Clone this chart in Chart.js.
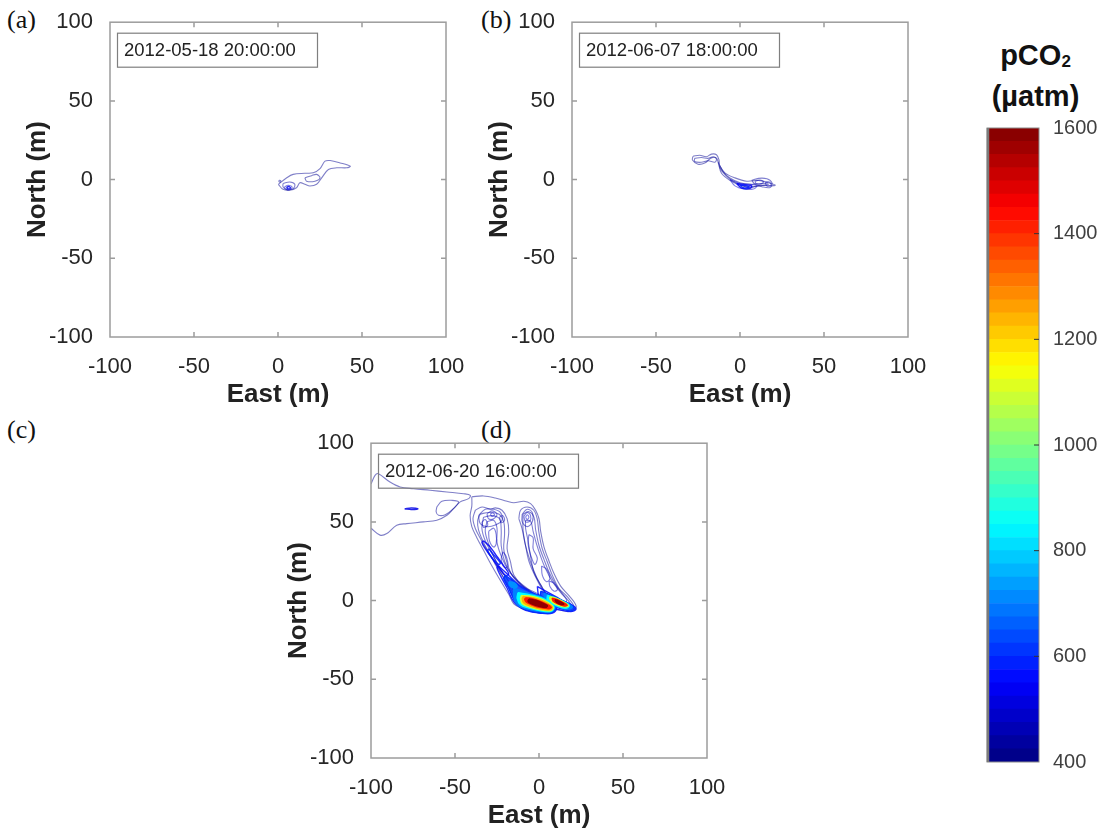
<!DOCTYPE html>
<html>
<head>
<meta charset="utf-8">
<script src="https://cdn.jsdelivr.net/npm/chart.js@4.4.0/dist/chart.umd.min.js"></script>
<style>
  body { margin: 0; background: #fff; }
  #wrap { position: relative; width: 1100px; height: 832px; overflow: hidden; background: #fff; }
  canvas { position: absolute; z-index: 1; }
  .tag { position: absolute; z-index: 0; font-family: "Liberation Serif", "Times New Roman", serif; font-size: 26px; line-height: 26px; color: #111; }
  .cbtitle { position: absolute; left: 975px; top: 38px; width: 121px; text-align: center; font-family: "Liberation Sans", Arial, sans-serif; font-weight: bold; font-size: 29px; line-height: 35px; color: #111; }
  .cbtitle sub { font-size: 17px; vertical-align: -2px; }
</style>
</head>
<body>
<div id="wrap">
  <div class="tag" style="left:7px;top:7px">(a)</div>
  <div class="tag" style="left:481px;top:7px">(b)</div>
  <div class="tag" style="left:7px;top:417px">(c)</div>
  <div class="tag" style="left:481px;top:417px">(d)</div>
  <div class="cbtitle">pCO<sub>2</sub><br>(µatm)</div>
  <canvas id="pa" width="480" height="410" style="left:0px;top:0px"></canvas>
  <canvas id="pb" width="480" height="410" style="left:462px;top:0px"></canvas>
  <canvas id="pc" width="480" height="410" style="left:261px;top:421px"></canvas>
  <canvas id="cbar" width="120" height="670" style="left:980px;top:110px"></canvas>
</div>
<script>
// ---- axis ticks ----
const xTicks = [-100, -50, 0, 50, 100];
const yTicks = [-100, -50, 0, 50, 100];
const cbarTicks = [400, 600, 800, 1000, 1200, 1400, 1600];
const stamps = ['2012-05-18 20:00:00', '2012-06-07 18:00:00', '2012-06-20 16:00:00'];

// colour bar bands (pCO2, µatm)
const cbarEdges = [400, 425, 450, 475, 500, 525, 550, 575, 600, 625, 650, 675, 700, 725, 750, 775,
  800, 825, 850, 875, 900, 925, 950, 975, 1000, 1025, 1050, 1075, 1100, 1125, 1150, 1175,
  1200, 1225, 1250, 1275, 1300, 1325, 1350, 1375, 1400, 1425, 1450, 1475, 1500, 1525, 1550, 1575, 1600];

// ---- panel (a) contours [East, North] ----
const aOuter = [[0.2,-3],[5,1],[9,3.3],[16,4],[21,4.3],[25,7],[28,11.7],[31,12.1],[37,10.6],[43,8.5],[41,7.5],[35,7.5],[30,6.4],[26,1.1],[23,-3],[19,-4.1],[16,-3],[13,-2],[11,-5.2],[7,-6.8],[3,-6.2],[0.2,-3]];
const aHole = [[16,1.1],[20,2.5],[23,3.3],[25,1.1],[22,-1],[17,-1],[16,1.1]];
const aLobe = [[3,-2.5],[7,-1.5],[10,-3],[9,-5.8],[5,-6.3],[3,-4.5],[3,-2.5]];
const aDot = [[0.6,-0.4],[1.6,-0.6],[1.5,-1.5],[0.6,-1.3],[0.6,-0.4]];
const aCore1 = [[3.8,-4.6],[6,-3.6],[8.4,-4.8],[7,-6.4],[4.5,-6],[3.8,-4.6]];
const aCore2 = [[5,-5],[6.3,-4.4],[7.4,-5.2],[6.1,-5.9],[5,-5]];

// ---- panel (b) contours ----
const bOuter = [[-28,14.8],[-24,15.5],[-20,14.5],[-17,16.2],[-14,15.8],[-12.5,12.5],[-12,7.5],[-8,2.2],[-4,-1.2],[2,-4.1],[6,-5.2],[12,-3.6],[18,-4],[21,-3.5],[17,-2],[11,-0.5],[4,-1],[-3,1.1],[-9,4.3],[-12.5,9.6],[-14,13.6],[-17,13.8],[-21,10.5],[-25,9.8],[-28.3,12.5],[-28,14.8]];
const bBlob2 = [[-27,13.5],[-23,14],[-19,13.5],[-16,14.5],[-14,13],[-15,11],[-19,12],[-23,11],[-27,11.5],[-27,13.5]];
const bBand = [[-13,11],[-10,5],[-6,1],[0,-2],[6,-3],[12,-2.5],[17,-3],[12,-4],[6,-4.5],[0,-3.5],[-6,-0.5],[-11,4],[-13,11]];
const bRight1 = [[7,-0.5],[11,0.8],[16,0.5],[19,-2],[18,-5],[13,-4.5],[9,-3],[7,-0.5]];
const bRight2 = [[9,-1],[12,-0.3],[14,-1.5],[12,-3],[9.5,-2.5],[9,-1]];
const bRight3 = [[15,-1.8],[17.5,-1.5],[18.5,-3.5],[16,-4],[15,-1.8]];
const bCore1 = [[-6,0],[0,-2.5],[6,-3],[10,-4],[8,-6],[2,-6],[-3,-4],[-6,0]];
const bCore2 = [[-2,-2.5],[3,-3.3],[7,-4],[6,-5.6],[1,-5.4],[-2,-2.5]];
const bCore3 = [[0,-3.6],[4,-4],[5.5,-4.8],[2,-5.2],[0,-3.6]];

// ---- panel (c) contours ----
const cFarWest = [[-100,74],[-97.6,79.6],[-95.6,80.6],[-88.7,75.3],[-82.7,72.2],[-74.7,71.1],[-64.8,70.1],[-54.8,69],[-44.9,67.9],[-40.9,66.9],[-41.9,64.8],[-46.9,62.7],[-50.9,58.4],[-54.8,54.2],[-60.8,51.1],[-68.8,50],[-78.7,48.9],[-84.7,47.9],[-90.6,42.6],[-94.6,41.6],[-100,46]];
const cFwLoop = [[-60.8,59.5],[-57.8,63.1],[-51.8,63.7],[-47.9,62.7],[-50.9,58.4],[-55.8,54.6],[-59.8,54.2],[-61.2,56.3],[-60.8,59.5]];
const cDash = [[-80,58.3],[-76,58.8],[-72,58.4],[-76,57.8],[-80,58.3]];
const cOuter = [[-40,66],[-33,66.5],[-26,65.2],[-19,63.1],[-15,62.2],[-9,63.1],[-5,61.6],[-2,57.4],[0,52],[1,44],[3,34],[6,25],[9,17],[13,9],[18,3],[22,-3],[21,-6],[17,-7],[12,-6],[8,-6],[3,-8],[-4,-7],[-10,-5],[-15,-2],[-18,4],[-22,11],[-28,22],[-33,32],[-37,40],[-40,47],[-41,54],[-40,60],[-40,66]];
const cW1 = [[-37.9,57.4],[-33.9,59.5],[-29,58],[-26,58.9],[-22,57.4],[-19,52.1],[-18,43.7],[-19,33.1],[-17,24.7],[-15,16.2],[-9.1,8.8],[-1.1,4.6],[4.9,0.4],[7.9,-4.9],[3.9,-7],[-3.1,-5.9],[-9.1,-3.8],[-14,-0.6],[-17,5.7],[-20,12],[-23,18.3],[-27,25.7],[-31,32.1],[-34.9,39.4],[-37.9,45.8],[-39.3,52.1],[-37.9,57.4]];
const cW2 = [[-35,55],[-30,56],[-24,55],[-21,50],[-20.5,42],[-21,33],[-19,24],[-16,16],[-10,9],[-3,4],[3,-0.5],[6,-4],[3,-6],[-3,-5],[-9,-3],[-13,0],[-16,6],[-20,13],[-25,21],[-29,29],[-33,37],[-36,45],[-36.5,51],[-35,55]];
const cW3 = [[-33,53],[-28,54],[-23.5,52],[-22.5,45],[-22.5,35],[-20.5,25],[-16.5,17],[-10.5,10],[-3.5,4],[2.5,-2],[3.5,-4],[0,-5],[-6,-3],[-11,0],[-15,6],[-19,14],[-24,22],[-28,30],[-32,38],[-34,46],[-33,53]];
const cW4 = [[-31,50],[-27,51],[-25,46],[-25,37],[-22,27],[-18,19],[-12,12],[-5,6],[1,0],[1,-3],[-3,-3.5],[-9,-1],[-14,5],[-18,12],[-23,20],[-27,28],[-30,36],[-32,44],[-31,50]];
const cT1 = [[-36,54],[-32,58],[-27,58],[-23,56],[-22,51],[-26,48],[-31,47],[-35,49],[-36,54]];
const cT2 = [[-31,55],[-28,57],[-25,55],[-27,52],[-30,52],[-31,55]];
const cT3 = [[-29,55],[-27.5,55.8],[-26.5,54.5],[-28,53.5],[-29,55]];
const cT4 = [[-34,50],[-32,51.5],[-30.5,48],[-33,46.5],[-34,50]];
const cT5 = [[-23.5,53],[-21.5,54],[-20.5,51],[-22.5,49.5],[-23.5,53]];
const cM1 = [[-30,44],[-27,46],[-25.5,42],[-25.5,36],[-27,34],[-29.5,38],[-30,44]];
const cM2 = [[-21.5,31],[-19.5,28],[-18.5,22],[-20.5,21],[-22.5,26],[-21.5,31]];
const cS1 = [[-33,38],[-29,34],[-25,28],[-21,22],[-18,17],[-20,16],[-24,21],[-28,27],[-32,33],[-34,37],[-33,38]];
const cS2 = [[-30,33],[-26.5,28.5],[-23,24],[-24,23],[-27.5,26.5],[-30.5,31],[-30,33]];
const cE1 = [[-12,52.1],[-11,57.4],[-7.1,59.5],[-3.1,57.4],[-1.1,52.1],[-0.1,43.7],[1.9,33.1],[4.9,24.7],[7.9,16.2],[11.8,7.8],[16.8,2.5],[20.8,-3.8],[17.8,-5.9],[12.8,-4.9],[8.9,-2.3],[5.9,1.5],[2.9,6.7],[-1.1,14.1],[-5.1,24.7],[-8.1,35.2],[-10.1,45.8],[-12,52.1]];
const cE2 = [[-9.5,55],[-6,56.5],[-3,53],[-2,45],[0,35],[3,26],[6,18],[10,10],[15,3],[19,-3],[16,-5],[10,-3],[6,1],[2,7],[-2,15],[-6,25],[-8,35],[-9.5,45],[-9.5,55]];
const cE3 = [[-8,51],[-5,50.5],[-3.5,44],[-1.5,36],[1,28],[4,20],[8,12],[13,5],[16.5,0],[14,-3],[9,-1],[5,3],[1,10],[-3,18],[-5,28],[-6.5,38],[-8,46],[-8,51]];
const cER1 = [[-10,55],[-7,58],[-4,56],[-4,50],[-7,47],[-10,50],[-10,55]];
const cER2 = [[-9,53.5],[-7,56],[-5,54],[-5.5,50.5],[-8,50],[-9,53.5]];
const cER3 = [[-8,53],[-7,54.5],[-6,53],[-7,51.5],[-8,53]];
const cEM1 = [[-6,42],[-3.5,40],[-3.5,33],[-1,27],[-2.5,23],[-5,29],[-6.5,36],[-6,42]];
const cEM2 = [[1.5,22],[4.5,20],[6.5,14],[4.5,12],[2,16],[1.5,22]];
const cEM3 = [[6,12.5],[9,11],[11,7],[9,6],[6.5,9],[6,12.5]];
// west core, outer ring to centre
const cWc0 = [[-24,22],[-19,17],[-12,10],[-4,5],[4,1.5],[9,-1.5],[10.5,-4.8],[8,-8],[1,-8],[-8,-6.2],[-13,-3],[-16,1],[-19,8],[-23,16],[-25,21],[-24,22]];
const cWc1 = [[-20,16],[-16,13],[-10,8],[-3,4.5],[4,1.2],[8.5,-1.5],[10,-4.6],[7.5,-7.8],[1,-7.7],[-7,-6],[-12,-3],[-15,1],[-18,8],[-21,14],[-20,16]];
const cWc2 = [[-15,8],[-7,5],[2,2.2],[7,-0.8],[9.5,-4.5],[7,-7.2],[1,-7],[-7,-5.4],[-12.5,-3],[-15,2],[-15,8]];
const cWc3 = [[-12.5,5],[-5,3.6],[2,1.5],[6.5,-1.2],[9,-4.4],[7,-6.8],[1,-6.5],[-6,-4.8],[-11,-2.6],[-13,1.5],[-12.5,5]];
const cWc4 = [[-10.5,3.3],[-4,2.6],[2,0.8],[6,-1.6],[8.5,-4.3],[7,-6.4],[1,-5.9],[-5.5,-4.1],[-10,-2],[-11,1],[-10.5,3.3]];
const cWc5 = [[-9.5,2.6],[-4,1.9],[1.5,0.2],[5.5,-2],[8,-4.2],[6.5,-5.9],[1,-5.3],[-5,-3.5],[-9,-1.5],[-10,1],[-9.5,2.6]];
const cWc6 = [[-8,1.8],[-4,1.2],[1,-0.5],[5,-2.5],[7.3,-4.2],[6,-5.2],[1,-4.5],[-4,-2.8],[-7.5,-1],[-8.5,0.8],[-8,1.8]];
const cWc7 = [[-6,1],[-2,0.2],[2,-1.5],[5,-3.2],[4,-4.3],[0,-3.6],[-4,-2.2],[-6.5,-0.6],[-6,1]];
const cWspot = [[-18,12],[-15,11.5],[-13,9],[-15,8],[-17.5,9.5],[-18,12]];
// east core
const cEc0 = [[-1,9],[4,6],[10,2.5],[15,-0.5],[20,-3],[22,-5.5],[19,-7],[13,-6],[7,-4.5],[3,-2],[0,2],[-1,9]];
const cEc1 = [[1,6],[6,4],[11,1.5],[16,-1],[20,-3.5],[21,-5.5],[18,-6.5],[13,-5],[8,-3.5],[4,-1.5],[1,1.5],[1,6]];
const cEc2 = [[3,4.5],[8,2.5],[13,0.3],[17.5,-2],[20,-4.2],[17,-5.5],[12,-4.3],[7,-2.5],[3.5,0],[3,4.5]];
const cEc3 = [[5,3.3],[9,2],[14,-0.3],[18,-3],[16.5,-4.8],[12,-3.9],[8,-2],[5,0.5],[5,3.3]];
const cEc4 = [[6.5,2.5],[10,1.5],[14.5,-0.8],[17.5,-3.2],[15.5,-4],[11.5,-3],[8,-1.2],[6.5,1],[6.5,2.5]];
const cEc5 = [[7.8,1.6],[11,0.6],[15,-1.6],[16.8,-3],[14.5,-3.3],[11,-2],[8.5,-0.5],[7.8,1.6]];
const cEc6 = [[9.5,0.6],[12.5,-0.6],[14.8,-2.2],[13,-2.5],[10.5,-1.2],[9.5,0.6]];

// contour level (pCO2) of each loop
const panelA = [[aOuter, 420], [aHole, 420], [aLobe, 440], [aDot, 430], [aCore1, 480], [aCore2, 530]];
const panelB = [[bOuter, 420], [bBlob2, 430], [bBand, 430], [bRight1, 440], [bRight2, 460], [bRight3, 470],
  [bCore1, 490], [bCore2, 540], [bCore3, 580]];
const panelC = [[cFarWest, 420], [cFwLoop, 430], [cDash, 520], [cOuter, 420],
  [cW1, 430], [cW2, 440], [cW3, 450], [cW4, 460], [cT1, 450], [cT2, 470], [cT3, 490], [cT4, 470], [cT5, 460],
  [cM1, 470], [cM2, 480], [cS1, 540], [cS2, 580],
  [cE1, 430], [cE2, 440], [cE3, 450], [cER1, 450], [cER2, 470], [cER3, 490], [cEM1, 460], [cEM2, 470], [cEM3, 480],
  [cWc0, 560], [cWc1, 610], [cWspot, 720], [cWc2, 700], [cWc3, 850], [cWc4, 1100], [cWc5, 1250], [cWc6, 1420], [cWc7, 1580],
  [cEc0, 560], [cEc1, 610], [cEc2, 700], [cEc3, 850], [cEc4, 1100], [cEc5, 1420], [cEc6, 1580]];

// matlab "jet" colour map over 400..1600
function jet(v, a) {
  const t = Math.min(1, Math.max(0, (v - 400) / 1200));
  const c = k => Math.round(255 * Math.min(1, Math.max(0, 1.5 - Math.abs(4 * t - k))));
  return 'rgba(' + c(3) + ',' + c(2) + ',' + c(1) + ',' + a + ')';
}

function contourSets(list) {
  return list.map(([pts, level]) => {
    const filled = level >= 600;
    const strong = level >= 500;
    return {
      data: pts.map(p => ({x: p[0], y: p[1]})),
      showLine: true,
      tension: 0.35,
      pointRadius: 0,
      borderWidth: strong ? 1.4 : 1.1,
      borderColor: jet(level, filled ? 1 : (strong ? 0.85 : 0.5)),
      backgroundColor: jet(level, level < 700 ? 0.85 : 1),
      fill: filled ? 'shape' : false,
      order: -level
    };
  });
}

const sans = '"Liberation Sans", Arial, Helvetica, sans-serif';

// white plot background, grey box, inward ticks, date stamp
const framePlugin = {
  id: 'frame',
  beforeDraw(chart) {
    const {ctx, chartArea: a} = chart;
    ctx.save();
    ctx.fillStyle = '#fff';
    ctx.fillRect(a.left, a.top, a.right - a.left, a.bottom - a.top);
    ctx.restore();
  },
  afterDraw(chart, args, opts) {
    const {ctx, chartArea: a, scales} = chart;
    ctx.save();
    ctx.strokeStyle = '#9c9c9c';
    ctx.lineWidth = 1.5;
    ctx.strokeRect(a.left, a.top, a.right - a.left, a.bottom - a.top);
    ctx.beginPath();
    xTicks.forEach(v => {
      const px = scales.x.getPixelForValue(v);
      if (px <= a.left + 1 || px >= a.right - 1) return;
      ctx.moveTo(px, a.bottom); ctx.lineTo(px, a.bottom - 5);
      ctx.moveTo(px, a.top); ctx.lineTo(px, a.top + 5);
    });
    yTicks.forEach(v => {
      const py = scales.y.getPixelForValue(v);
      if (py <= a.top + 1 || py >= a.bottom - 1) return;
      ctx.moveTo(a.left, py); ctx.lineTo(a.left + 5, py);
      ctx.moveTo(a.right, py); ctx.lineTo(a.right - 5, py);
    });
    ctx.stroke();
    if (opts.stamp) {
      ctx.strokeStyle = '#7f7f7f';
      ctx.lineWidth = 1.2;
      ctx.strokeRect(a.left + 7.5, a.top + 11, 200, 34);
      ctx.fillStyle = '#222';
      ctx.font = '18.5px ' + sans;
      ctx.textBaseline = 'middle';
      ctx.fillText(opts.stamp, a.left + 14, a.top + 28.5);
    }
    ctx.restore();
  }
};

function axis(text, ticks, isX) {
  return {
    type: 'linear', min: -100, max: 100,
    ticks: {stepSize: 50, padding: 9, color: '#262626', font: {family: sans, size: 22}, maxRotation: 0, autoSkip: false,
      callback: v => String(v)},
    afterBuildTicks: s => { s.ticks = ticks.map(v => ({value: v})); },
    grid: {display: false},
    border: {display: false},
    title: {display: true, text: text, color: '#222', font: {family: sans, size: 26, weight: 'bold'},
      padding: isX ? {top: 0, bottom: 0} : {top: 22, bottom: 0}},
    afterFit: s => { if (isX) s.height = 73; else s.width = 110; }
  };
}

function panel(id, list, stamp) {
  new Chart(document.getElementById(id), {
    type: 'scatter',
    data: {datasets: contourSets(list)},
    options: {
      responsive: false,
      animation: false,
      events: [],
      layout: {padding: {left: 0, top: 20, right: 34, bottom: 0}},
      plugins: {legend: {display: false}, tooltip: {enabled: false}, frame: {stamp: stamp}},
      scales: {x: axis('East (m)', xTicks, true), y: axis('North (m)', yTicks, false)}
    },
    plugins: [framePlugin]
  });
}

panel('pa', panelA, stamps[0]);
panel('pb', panelB, stamps[1]);
panel('pc', panelC, stamps[2]);

// ---- colour bar ----
const bands = [];
for (let i = 0; i < cbarEdges.length - 1; i++) {
  const lo = cbarEdges[i], hi = cbarEdges[i + 1];
  bands.push({
    data: [[lo, hi]],
    backgroundColor: jet((lo + hi) / 2, 1),
    borderWidth: 0,
    grouped: false,
    barPercentage: 1,
    categoryPercentage: 1
  });
}

const cbarFrame = {
  id: 'cbarFrame',
  afterDraw(chart) {
    const {ctx, chartArea: a, scales} = chart;
    ctx.save();
    ctx.strokeStyle = '#8a8a8a';
    ctx.lineWidth = 1;
    ctx.strokeRect(a.left, a.top, a.right - a.left, a.bottom - a.top);
    ctx.strokeStyle = '#7a7a7a';
    ctx.lineWidth = 2.5;
    ctx.beginPath();
    ctx.moveTo(a.left + 1, a.top); ctx.lineTo(a.left + 1, a.bottom);
    ctx.stroke();
    ctx.strokeStyle = '#333';
    ctx.lineWidth = 1;
    ctx.beginPath();
    cbarTicks.forEach(v => {
      const py = scales.y.getPixelForValue(v);
      if (py <= a.top + 1 || py >= a.bottom - 1) return;
      ctx.moveTo(a.right, py); ctx.lineTo(a.right - 5, py);
    });
    ctx.stroke();
    ctx.restore();
  }
};

new Chart(document.getElementById('cbar'), {
  type: 'bar',
  data: {labels: ['pCO2'], datasets: bands},
  options: {
    responsive: false,
    animation: false,
    events: [],
    layout: {padding: {left: 7, top: 15, right: 0, bottom: 18}},
    plugins: {legend: {display: false}, tooltip: {enabled: false}},
    scales: {
      x: {display: false},
      y: {
        position: 'right', min: 400, max: 1600,
        ticks: {stepSize: 200, padding: 6, color: '#404040', font: {family: sans, size: 20}, callback: v => String(v)},
        afterBuildTicks: s => { s.ticks = cbarTicks.map(v => ({value: v})); },
        grid: {display: false},
        border: {display: false},
        afterFit: s => { s.width = 61; }
      }
    }
  },
  plugins: [cbarFrame]
});
</script>
</body>
</html>
